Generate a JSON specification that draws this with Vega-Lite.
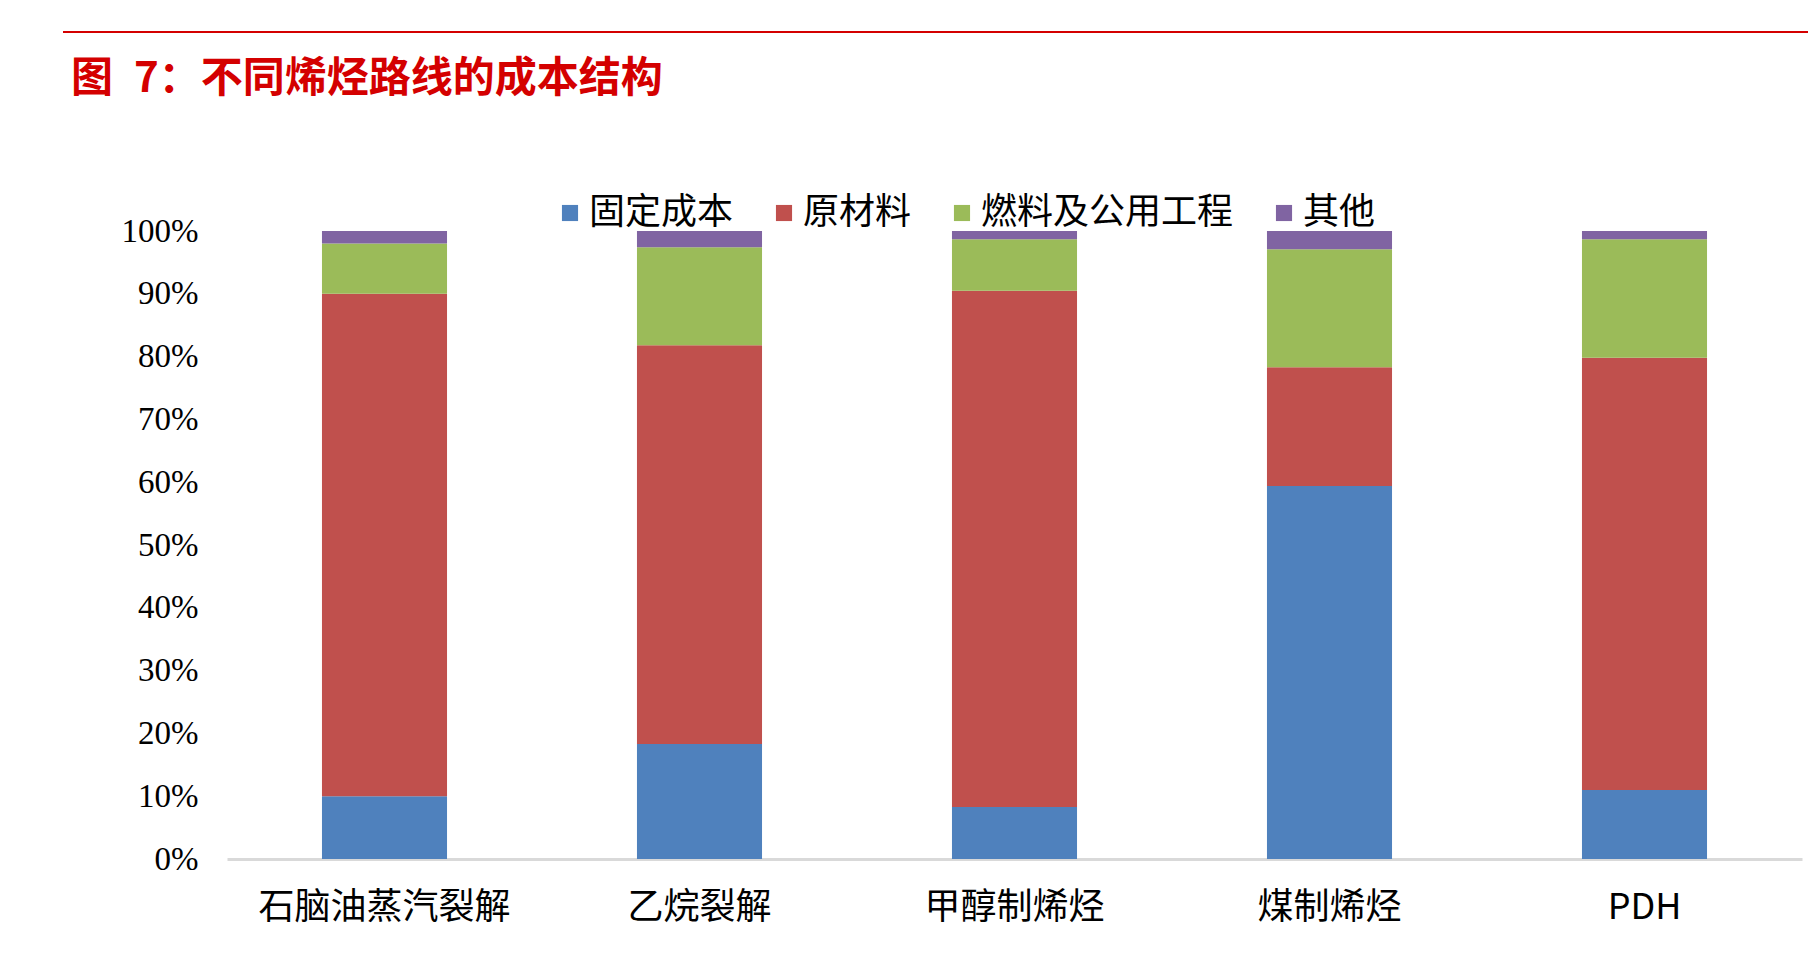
{
  "$schema": "https://vega.github.io/schema/vega-lite/v6.json",
  "autosize": "none",
  "width": 1575,
  "height": 628,
  "padding": {"left": 227, "top": 231, "right": 6, "bottom": 99},
  "background": "white",
  "title": {
    "text": "图\u20027：不同烯烃路线的成本结构",
    "anchor": "start",
    "frame": "group",
    "font": "Noto Sans CJK SC",
    "fontSize": 42,
    "fontWeight": "bold",
    "color": "#D40000",
    "offset": 0,
    "dx": -156,
    "dy": 70
  },
  "config": {
    "view": {"stroke": null},
    "axis": {"grid": false, "ticks": false, "labelColor": "#000000"}
  },
  "layer": [
    {
      "data": {
        "values": [
          {"route": "石脑油蒸汽裂解", "item": "固定成本", "ord": 1, "share": 10.0},
          {"route": "石脑油蒸汽裂解", "item": "原材料", "ord": 2, "share": 80.0},
          {"route": "石脑油蒸汽裂解", "item": "燃料及公用工程", "ord": 3, "share": 8.0},
          {"route": "石脑油蒸汽裂解", "item": "其他", "ord": 4, "share": 2.0},
          {"route": "乙烷裂解", "item": "固定成本", "ord": 1, "share": 18.3},
          {"route": "乙烷裂解", "item": "原材料", "ord": 2, "share": 63.5},
          {"route": "乙烷裂解", "item": "燃料及公用工程", "ord": 3, "share": 15.6},
          {"route": "乙烷裂解", "item": "其他", "ord": 4, "share": 2.6},
          {"route": "甲醇制烯烃", "item": "固定成本", "ord": 1, "share": 8.3},
          {"route": "甲醇制烯烃", "item": "原材料", "ord": 2, "share": 82.2},
          {"route": "甲醇制烯烃", "item": "燃料及公用工程", "ord": 3, "share": 8.2},
          {"route": "甲醇制烯烃", "item": "其他", "ord": 4, "share": 1.3},
          {"route": "煤制烯烃", "item": "固定成本", "ord": 1, "share": 59.4},
          {"route": "煤制烯烃", "item": "原材料", "ord": 2, "share": 18.9},
          {"route": "煤制烯烃", "item": "燃料及公用工程", "ord": 3, "share": 18.8},
          {"route": "煤制烯烃", "item": "其他", "ord": 4, "share": 2.9},
          {"route": "PDH", "item": "固定成本", "ord": 1, "share": 11.0},
          {"route": "PDH", "item": "原材料", "ord": 2, "share": 68.8},
          {"route": "PDH", "item": "燃料及公用工程", "ord": 3, "share": 18.9},
          {"route": "PDH", "item": "其他", "ord": 4, "share": 1.3}
        ]
      },
      "mark": {"type": "bar"},
      "encoding": {
        "x": {
          "field": "route",
          "type": "nominal",
          "sort": null,
          "title": null,
          "scale": {"paddingInner": 0.603, "paddingOuter": 0.3015},
          "axis": {
            "labelAngle": 0,
            "labelFont": "Noto Sans CJK SC",
            "labelFontSize": 36,
            "labelLimit": 400,
            "labelPadding": 31,
            "domainColor": "#D9D9D9",
            "domainWidth": 3
          }
        },
        "y": {
          "field": "share",
          "type": "quantitative",
          "stack": "normalize",
          "title": null,
          "scale": {"domain": [0, 1]},
          "axis": {
            "format": ".0%",
            "values": [0, 0.1, 0.2, 0.3, 0.4, 0.5, 0.6, 0.7, 0.8, 0.9, 1],
            "labelOverlap": false,
            "domain": false,
            "labelFont": "Liberation Serif",
            "labelFontSize": 33,
            "labelPadding": 29
          }
        },
        "color": {
          "field": "item",
          "type": "nominal",
          "scale": {
            "domain": ["固定成本", "原材料", "燃料及公用工程", "其他"],
            "range": ["#4F81BD", "#C0504D", "#9BBB59", "#8064A2"]
          },
          "legend": {
            "title": null,
            "orient": "none",
            "direction": "horizontal",
            "legendX": 325,
            "legendY": -36,
            "symbolType": "square",
            "symbolSize": 260,
            "symbolStrokeWidth": 0,
            "labelFont": "Noto Sans CJK SC",
            "labelFontSize": 36,
            "labelLimit": 400,
            "labelColor": "#000000",
            "labelOffset": 1,
            "columnPadding": 32
          }
        },
        "order": {"field": "ord", "type": "quantitative"}
      }
    },
    {
      "data": {"values": [{"line": "header"}]},
      "mark": {"type": "rule", "color": "#D40000", "strokeWidth": 2},
      "encoding": {
        "x": {"value": -164},
        "x2": {"value": 1581},
        "y": {"value": -199}
      }
    }
  ]
}
